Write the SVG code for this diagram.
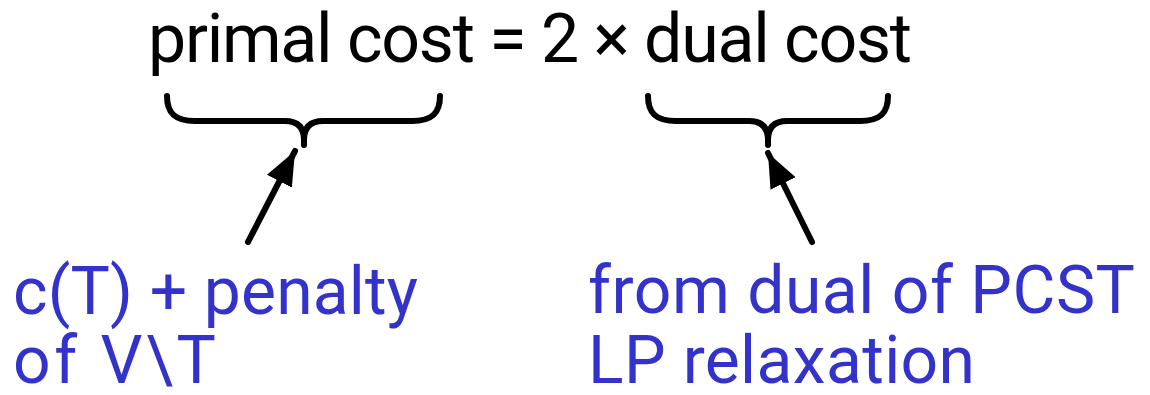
<svg xmlns="http://www.w3.org/2000/svg" width="1150" height="395" viewBox="0 0 1150 395">
<style>
.main{font-family:Roboto,"DejaVu Sans",sans-serif;font-size:68px;fill:#000}
.note{font-family:Roboto,"DejaVu Sans",sans-serif;font-size:66px;fill:#3333cc}
.brace{fill:none;stroke:#000;stroke-width:6;stroke-linecap:round;stroke-linejoin:round}
.arrow{fill:none;stroke:#000;stroke-width:6;stroke-linecap:round}
</style>
<defs>
<marker id="ah" markerUnits="userSpaceOnUse" markerWidth="36" markerHeight="32" refX="34" refY="16" orient="auto">
<path d="M0,2 L34,16 L0,30 Z" fill="#000"/>
</marker>
</defs>
<rect width="1150" height="395" fill="#fff"/>
<g id="equation">
<text class="main" x="148" y="62" textLength="764" lengthAdjust="spacing">primal cost = 2 × dual cost</text>
</g>
<g id="brace-primal">
<path class="brace" d="M167,96 C167,113 175,121 195,121 L285,121 Q304,121 304,140 L304,145 M440,96 C440,113 432,121 412,121 L323,121 Q304,121 304,140"/>
</g>
<g id="brace-dual">
<path class="brace" d="M648,96 C648,113 656,121 676,121 L749,121 Q768,121 768,140 L768,145 M888,96 C888,113 880,121 860,121 L787,121 Q768,121 768,140"/>
</g>
<g id="label-primal">
<text class="note" x="13" y="314" textLength="405" lengthAdjust="spacing">c(T) + penalty</text>
<text class="note" x="13" y="383" textLength="203" lengthAdjust="spacing">of V\T</text>
</g>
<g id="label-dual">
<text class="note" x="588" y="313" textLength="547" lengthAdjust="spacing">from dual of PCST</text>
<text class="note" x="588" y="383" textLength="387" lengthAdjust="spacing">LP relaxation</text>
</g>
<g id="connectors">
<line class="arrow" x1="248" y1="242" x2="295" y2="151" marker-end="url(#ah)"/>
<line class="arrow" x1="812" y1="242" x2="768" y2="153" marker-end="url(#ah)"/>
</g>
</svg>
